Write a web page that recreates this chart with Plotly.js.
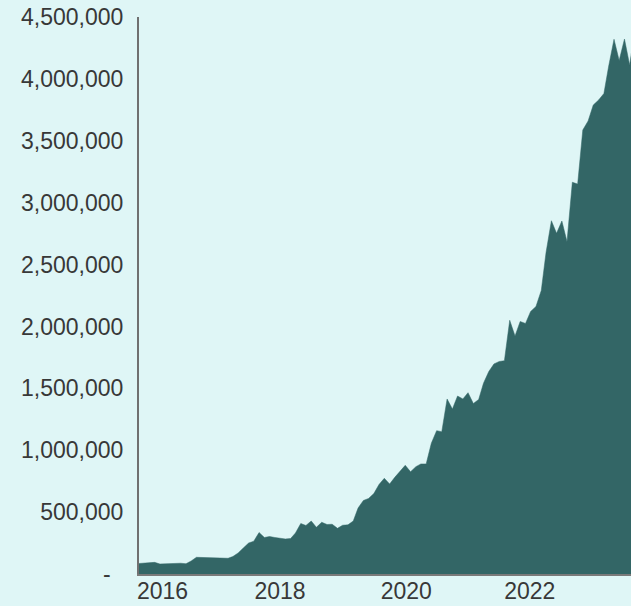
<!DOCTYPE html>
<html>
<head>
<meta charset="utf-8">
<script src="https://cdn.plot.ly/plotly-3.0.1.min.js"></script>
<style>
html,body{margin:0;padding:0;background:#dff6f6;}
#chart{width:631px;height:606px;}
</style>
</head>
<body>
<div id="chart"></div>
<script>
var months = [
  '2015-09','2015-10','2015-11','2015-12',
  '2016-01','2016-02','2016-03','2016-04','2016-05','2016-06','2016-07','2016-08','2016-09','2016-10','2016-11','2016-12',
  '2017-01','2017-02','2017-03','2017-04','2017-05','2017-06','2017-07','2017-08','2017-09','2017-10','2017-11','2017-12',
  '2018-01','2018-02','2018-03','2018-04','2018-05','2018-06','2018-07','2018-08','2018-09','2018-10','2018-11','2018-12',
  '2019-01','2019-02','2019-03','2019-04','2019-05','2019-06','2019-07','2019-08','2019-09','2019-10','2019-11','2019-12',
  '2020-01','2020-02','2020-03','2020-04','2020-05','2020-06','2020-07','2020-08','2020-09','2020-10','2020-11','2020-12',
  '2021-01','2021-02','2021-03','2021-04','2021-05','2021-06','2021-07','2021-08','2021-09','2021-10','2021-11','2021-12',
  '2022-01','2022-02','2022-03','2022-04','2022-05','2022-06','2022-07','2022-08','2022-09','2022-10','2022-11','2022-12',
  '2023-01','2023-02','2023-03','2023-04','2023-05','2023-06','2023-07','2023-08'
];
var values = [
  85000, 89000, 94000, 94000,
  81000, 82000, 85000, 89000, 87000, 83000, 105000, 135000, 134000, 132000, 134000, 134000,
  132000, 127000, 141000, 170000, 210000, 250000, 265000, 335000, 295000, 303000, 295000, 287000,
  283000, 287000, 331000, 408000, 392000, 428000, 377000, 418000, 400000, 402000, 369000, 394000,
  397000, 428000, 533000, 594000, 610000, 650000, 723000, 773000, 727000, 781000, 832000, 878000,
  826000, 867000, 889000, 889000, 1056000, 1158000, 1150000, 1414000, 1333000, 1438000, 1414000, 1465000,
  1377000, 1410000, 1541000, 1636000, 1697000, 1717000, 1723000, 2050000, 1923000, 2040000, 2024000, 2121000,
  2161000, 2290000, 2600000, 2854000, 2752000, 2852000, 2685000, 3165000, 3150000, 3587000, 3660000, 3789000,
  3829000, 3882000, 4104000, 4320000, 4149000, 4322000, 4112000, 4400000
];
var yTickVals = [0, 500000, 1000000, 1500000, 2000000, 2500000, 3000000, 3500000, 4000000, 4500000];
var yTickText = ['-\u00a0\u00a0', '500,000', '1,000,000', '1,500,000', '2,000,000', '2,500,000', '3,000,000', '3,500,000', '4,000,000', '4,500,000'];
var xTickVals = ['2016-01-16', '2017-12-01', '2019-12-07', '2021-11-26'];
var xTickText = ['2016', '2018', '2020', '2022'];
var xRange = ['2015-09-01', '2023-07-09'];

var dates = months.map(function(m){ return m + '-01'; });

var trace = {
  x: dates,
  y: values,
  type: 'scatter',
  mode: 'lines',
  fill: 'tozeroy',
  fillcolor: '#336666',
  line: {color: '#336666', width: 0.5},
  hoverinfo: 'skip'
};
// invisible companion trace so the label-only axis (x2) is drawn
var labelTrace = {
  x: dates,
  y: values,
  xaxis: 'x2',
  type: 'scatter',
  mode: 'lines',
  line: {color: 'rgba(0,0,0,0)', width: 0},
  hoverinfo: 'skip'
};

var layout = {
  width: 631, height: 606,
  paper_bgcolor: '#dff6f6',
  plot_bgcolor: '#dff6f6',
  margin: {l: 139, r: 0, t: 17, b: 32, pad: 0},
  showlegend: false,
  font: {family: '"Liberation Sans", Arial, sans-serif', size: 23, color: '#383838'},
  xaxis: {
    type: 'date',
    range: xRange,
    showticklabels: false,
    showgrid: false, zeroline: false,
    showline: true, linecolor: '#7a7a7a', linewidth: 2,
    ticks: ''
  },
  xaxis2: {
    type: 'date',
    overlaying: 'x',
    anchor: 'free',
    position: 0,
    side: 'bottom',
    range: xRange,
    tickvals: xTickVals,
    ticktext: xTickText,
    showgrid: false, zeroline: false, showline: false,
    ticks: '', ticklabelstandoff: 1,
    tickfont: {size: 23, color: '#383838'}
  },
  yaxis: {
    range: [0, 4500000],
    tickvals: yTickVals,
    ticktext: yTickText,
    showgrid: false, zeroline: false,
    showline: true, linecolor: '#707070', linewidth: 2,
    ticks: '', ticklabelstandoff: 9,
    tickfont: {size: 23, color: '#383838'}
  }
};

Plotly.newPlot('chart', [trace, labelTrace], layout, {displayModeBar: false, staticPlot: true});
</script>
</body>
</html>
